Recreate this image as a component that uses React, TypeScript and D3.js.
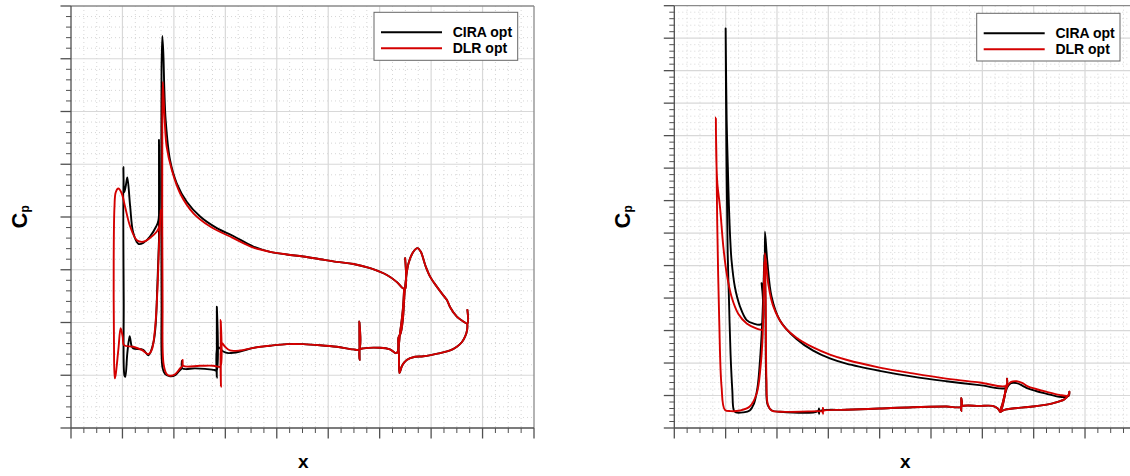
import React from "react";
import * as d3 from "d3";

type P = [number, number];

// ---------------- Left panel data (x/c, Cp) ----------------
const leftCiraSlat: P[] = [
  [0.142, -1.56], [0.142, -3.46], [0.140, -1.94], [0.131, -1.82], [0.107, -1.63], [0.081, -1.51],
  [0.062, -1.49], [0.042, -1.70], [0.030, -2.20], [0.019, -2.75], [0.013, -2.59], [0.007, -2.47],
  [0.0035, -2.95], [0.005, -0.43], [0.008, 1.01], [0.011, 1.03], [0.019, 0.58], [0.028, 0.26],
  [0.036, 0.45], [0.042, 0.49], [0.081, 0.52], [0.101, 0.62], [0.120, 0.39], [0.129, 0.05],
  [0.136, -0.75], [0.142, -1.56],
];
const leftDlrSlat: P[] = [
  [0.149, -2.13], [0.143, -1.82], [0.133, -1.72], [0.107, -1.60], [0.081, -1.53], [0.056, -1.56],
  [0.030, -1.82], [0.010, -2.20], [-0.003, -2.45], [-0.016, -2.54], [-0.026, -2.47], [-0.031, -2.19],
  [-0.034, -1.18], [-0.033, 0.33], [-0.030, 1.06], [-0.027, 1.01], [-0.016, 0.52], [-0.007, 0.11],
  [0.001, 0.27], [0.006, 0.43], [0.042, 0.46], [0.075, 0.52], [0.101, 0.60], [0.114, 0.52],
  [0.127, 0.10], [0.136, -0.62], [0.143, -1.56], [0.149, -2.13],
];
const leftCiraMain: P[] = [
  [1.099, -1.22], [1.099, -0.64], [1.090, -0.65], [1.066, -0.77], [1.028, -0.90], [0.963, -1.03],
  [0.898, -1.11], [0.833, -1.15], [0.768, -1.20], [0.703, -1.25], [0.639, -1.29], [0.574, -1.34],
  [0.509, -1.44], [0.431, -1.64], [0.367, -1.79], [0.302, -2.01], [0.250, -2.29], [0.211, -2.64],
  [0.185, -3.08], [0.168, -3.84], [0.163, -4.40], [0.159, -5.10], [0.155, -5.43],
  [0.152, -4.79], [0.152, -0.43], [0.156, 0.86], [0.166, 0.98], [0.185, 1.02], [0.205, 1.00],
  [0.224, 0.90], [0.230, 0.87], [0.231, 0.73], [0.233, 0.87], [0.282, 0.87], [0.321, 0.88],
  [0.358, 0.90], [0.366, 0.92], [0.367, -0.30], [0.367, 1.05], [0.370, 0.46], [0.392, 0.55],
  [0.412, 0.58], [0.457, 0.55], [0.509, 0.48], [0.574, 0.44], [0.639, 0.41], [0.703, 0.41],
  [0.768, 0.43], [0.833, 0.46], [0.898, 0.51], [0.920, 0.51], [0.921, -0.02], [0.922, 0.71],
  [0.923, 0.51], [0.937, 0.49], [1.002, 0.48], [1.040, 0.51], [1.066, 0.58], [1.079, 0.20],
  [1.090, -0.24], [1.095, -0.64],
];
const leftDlrMain: P[] = [
  [1.099, -1.22], [1.099, -0.64], [1.090, -0.65], [1.066, -0.77], [1.028, -0.90], [0.963, -1.03],
  [0.898, -1.11], [0.833, -1.15], [0.768, -1.20], [0.703, -1.25], [0.639, -1.29], [0.574, -1.34],
  [0.509, -1.42], [0.431, -1.60], [0.341, -1.82], [0.276, -2.07], [0.224, -2.45], [0.192, -2.89],
  [0.172, -3.33], [0.164, -3.85], [0.157, -4.56], [0.155, -3.84],
  [0.156, -0.43], [0.160, 0.79], [0.172, 0.98], [0.185, 1.01], [0.205, 0.98], [0.224, 0.87],
  [0.233, 0.82], [0.234, 0.71], [0.236, 0.82], [0.302, 0.82], [0.353, 0.82], [0.373, 0.84],
  [0.381, 0.84], [0.382, -0.05], [0.383, 1.22], [0.386, 0.39], [0.399, 0.46], [0.418, 0.53],
  [0.457, 0.53], [0.509, 0.48], [0.574, 0.44], [0.639, 0.41], [0.703, 0.41], [0.768, 0.43],
  [0.833, 0.46], [0.898, 0.51], [0.920, 0.51], [0.921, -0.02], [0.922, 0.71], [0.923, 0.51],
  [0.937, 0.49], [1.002, 0.48], [1.040, 0.51], [1.066, 0.58], [1.079, 0.20], [1.090, -0.24],
  [1.095, -0.64],
];
const leftCiraFlap: P[] = [
  [1.341, -0.24], [1.341, 0.02], [1.325, -0.02], [1.300, -0.11], [1.274, -0.29], [1.261, -0.43],
  [1.250, -0.50], [1.222, -0.68], [1.196, -0.87], [1.177, -1.09], [1.160, -1.34], [1.147, -1.41],
  [1.131, -1.34], [1.112, -1.12], [1.099, -0.68], [1.090, -0.05], [1.082, 0.20], [1.073, 0.29],
  [1.075, 0.62], [1.077, 0.96], [1.087, 0.82], [1.105, 0.71], [1.138, 0.65], [1.170, 0.64],
  [1.235, 0.58], [1.274, 0.53], [1.300, 0.46], [1.320, 0.37], [1.332, 0.27], [1.340, 0.14],
  [1.341, 0.02],
];
const leftDlrFlap: P[] = [
  [1.341, -0.24], [1.341, 0.02], [1.325, -0.02], [1.300, -0.11], [1.274, -0.29], [1.261, -0.43],
  [1.250, -0.50], [1.222, -0.68], [1.196, -0.87], [1.177, -1.09], [1.160, -1.34], [1.147, -1.41],
  [1.131, -1.34], [1.112, -1.12], [1.099, -0.68], [1.090, -0.05], [1.082, 0.20], [1.073, 0.29],
  [1.075, 0.62], [1.077, 0.96], [1.087, 0.82], [1.105, 0.71], [1.138, 0.65], [1.170, 0.64],
  [1.235, 0.58], [1.274, 0.53], [1.300, 0.46], [1.320, 0.37], [1.332, 0.27], [1.340, 0.14],
  [1.341, 0.02],
];

// ---------------- Right panel data (x/c, Cp) ----------------
const rightCiraSlat: P[] = [
  [0.151, -1.16], [0.147, -0.62], [0.142, -0.08], [0.134, 0.45], [0.124, 0.88], [0.110, 1.13],
  [0.094, 1.23], [0.068, 1.26], [0.040, 1.26], [0.032, 1.23], [0.026, 0.92], [0.019, 0.35],
  [0.013, -0.47], [0.008, -1.19], [0.003, -2.78], [0.000, -4.65], [0.004, -3.24], [0.011, -2.16],
  [0.014, -1.78], [0.019, -1.32], [0.023, -1.08], [0.036, -0.67], [0.056, -0.37], [0.082, -0.16],
  [0.107, -0.11], [0.140, -0.10], [0.140, -0.73],
];
const rightDlrSlat: P[] = [
  [0.151, -1.05], [0.149, -0.73], [0.144, 0.10], [0.136, 0.56], [0.121, 0.97], [0.094, 1.17],
  [0.056, 1.23], [0.020, 1.24], [-0.003, 1.22], [-0.016, 0.86], [-0.025, -0.16], [-0.033, -1.70],
  [-0.035, -2.42], [-0.038, -3.28], [-0.036, -2.60], [-0.032, -2.25], [-0.022, -1.90], [-0.009, -1.29],
  [0.004, -0.88], [0.023, -0.52], [0.049, -0.26], [0.082, -0.11], [0.121, -0.03], [0.140, -0.01],
];
const rightCiraMain: P[] = [
  [1.096, 0.74], [1.092, 0.88], [0.989, 0.84], [0.859, 0.78], [0.729, 0.71], [0.600, 0.62],
  [0.470, 0.51], [0.406, 0.43], [0.341, 0.31], [0.276, 0.13], [0.211, -0.16], [0.179, -0.52],
  [0.162, -1.08], [0.153, -1.52], [0.155, -0.47], [0.158, 0.76], [0.164, 1.15], [0.180, 1.23],
  [0.211, 1.25], [0.360, 1.24], [0.364, 1.20], [0.364, 1.28], [0.365, 1.24], [0.470, 1.22],
  [0.600, 1.20], [0.729, 1.18], [0.859, 1.17], [0.918, 1.17], [0.918, 1.04], [0.918, 1.24],
  [0.919, 1.17], [0.989, 1.16], [1.040, 1.16], [1.060, 1.20], [1.070, 1.25], [1.084, 1.07],
  [1.092, 0.88],
];
const rightDlrMain: P[] = [
  [1.096, 0.74], [1.092, 0.85], [0.989, 0.80], [0.859, 0.74], [0.729, 0.66], [0.600, 0.57],
  [0.470, 0.45], [0.406, 0.37], [0.341, 0.26], [0.276, 0.11], [0.224, -0.08], [0.185, -0.38],
  [0.166, -0.72], [0.153, -1.19], [0.156, -0.47], [0.159, 0.76], [0.164, 1.13], [0.179, 1.23],
  [0.211, 1.25], [0.360, 1.24], [0.379, 1.24], [0.379, 1.19], [0.379, 1.28], [0.380, 1.24],
  [0.470, 1.22], [0.600, 1.20], [0.729, 1.18], [0.859, 1.17], [0.918, 1.17], [0.918, 1.04],
  [0.918, 1.24], [0.919, 1.17], [0.989, 1.16], [1.040, 1.16], [1.060, 1.20], [1.070, 1.25],
  [1.084, 1.07], [1.092, 0.85],
];
const rightCiraFlap: P[] = [
  [1.339, 0.94], [1.336, 1.01], [1.300, 1.02], [1.248, 0.97], [1.209, 0.93], [1.177, 0.89],
  [1.157, 0.85], [1.134, 0.81], [1.112, 0.81], [1.099, 0.86], [1.090, 0.95], [1.079, 1.12],
  [1.070, 1.25], [1.086, 1.22], [1.118, 1.20], [1.196, 1.17], [1.274, 1.12], [1.319, 1.06],
  [1.336, 0.99], [1.339, 0.94],
];
const rightDlrFlap: P[] = [
  [1.339, 0.94], [1.336, 1.00], [1.300, 0.99], [1.248, 0.94], [1.209, 0.90], [1.177, 0.86],
  [1.157, 0.81], [1.134, 0.78], [1.112, 0.79], [1.099, 0.84], [1.090, 0.94], [1.079, 1.12],
  [1.070, 1.25], [1.086, 1.22], [1.118, 1.20], [1.196, 1.17], [1.274, 1.12], [1.319, 1.06],
  [1.336, 0.99], [1.339, 0.94],
];

const seriesNames = ["CIRA opt", "DLR opt"];
const seriesColors = ["#000000", "#d40000"];

type PanelCfg = {
  x0: number; x1: number; y0: number; y1: number;
  xMin: number; xStep: number; xN: number;
  yMin: number; yStep: number; yN: number;
  legend: { x: number; y: number; w: number; h: number };
  xLabel: { x: number; y: number };
  cpLabel: { x: number; y: number };
  cira: P[][];
  dlr: P[][];
};

const panels: PanelCfg[] = [
  {
    x0: 71, x1: 534, y0: 6, y1: 428,
    xMin: -0.2, xStep: 0.2, xN: 9,
    yMin: -6, yStep: 1, yN: 8,
    legend: { x: 374, y: 12.3, w: 143.7, h: 48 },
    xLabel: { x: 303.3, y: 468.3 },
    cpLabel: { x: 26.5, y: 228.5 },
    cira: [leftCiraSlat, leftCiraMain, leftCiraFlap],
    dlr: [leftDlrSlat, leftDlrMain, leftDlrFlap],
  },
  {
    x0: 674.3, x1: 1187.7, y0: 5.7, y1: 428,
    xMin: -0.2, xStep: 0.2, xN: 10,
    yMin: -5, yStep: 0.5, yN: 13,
    legend: { x: 976.7, y: 13.3, w: 143.3, h: 47.7 },
    xLabel: { x: 905.3, y: 468.3 },
    cpLabel: { x: 629.5, y: 228.5 },
    cira: [rightCiraSlat, rightCiraMain, rightCiraFlap],
    dlr: [rightDlrSlat, rightDlrMain, rightDlrFlap],
  },
];

function makeTicks(min: number, step: number, n: number, div: number) {
  const majors = d3.range(n + 1).map((i) => min + i * step);
  const minors: number[] = [];
  for (let i = 0; i < n; i++) {
    for (let k = 1; k < div; k++) minors.push(min + i * step + (k * step) / div);
  }
  return { majors, minors };
}

function Panel({ p }: { p: PanelCfg }) {
  const x = d3.scaleLinear().domain([p.xMin, p.xMin + p.xN * p.xStep]).range([p.x0, p.x1]);
  const y = d3.scaleLinear().domain([p.yMin + p.yN * p.yStep, p.yMin]).range([p.y1, p.y0]);
  const xt = makeTicks(p.xMin, p.xStep, p.xN, 4);
  const yt = makeTicks(p.yMin, p.yStep, p.yN, 5);
  const line = d3
    .line<P>()
    .x((d) => x(d[0]))
    .y((d) => y(d[1]))
    .curve(d3.curveCatmullRom.alpha(0.5));

  const gridMajor = "#d8d8d8";
  const gridMinor = "#d6d6d6";
  const tickCol = "#505050";

  return (
    <g>
      {/* minor grid (dotted) */}
      {xt.minors.map((v, i) => (
        <line key={"xmg" + i} x1={x(v)} x2={x(v)} y1={p.y0} y2={p.y1} stroke={gridMinor} strokeWidth={1} strokeDasharray="1,3" />
      ))}
      {yt.minors.map((v, i) => (
        <line key={"ymg" + i} x1={p.x0} x2={p.x1} y1={y(v)} y2={y(v)} stroke={gridMinor} strokeWidth={1} strokeDasharray="1,3" />
      ))}
      {/* major grid */}
      {xt.majors.slice(1, -1).map((v, i) => (
        <line key={"xg" + i} x1={x(v)} x2={x(v)} y1={p.y0} y2={p.y1} stroke={gridMajor} strokeWidth={1.2} />
      ))}
      {yt.majors.slice(1, -1).map((v, i) => (
        <line key={"yg" + i} x1={p.x0} x2={p.x1} y1={y(v)} y2={y(v)} stroke={gridMajor} strokeWidth={1.2} />
      ))}
      {/* frame */}
      <line x1={p.x0} x2={p.x1} y1={p.y0} y2={p.y0} stroke="#8a8a8a" strokeWidth={1.3} />
      <line x1={p.x1} x2={p.x1} y1={p.y0} y2={p.y1} stroke="#8a8a8a" strokeWidth={1.3} />
      <line x1={p.x0} x2={p.x0} y1={p.y0} y2={p.y1} stroke={tickCol} strokeWidth={1.3} />
      <line x1={p.x0} x2={p.x1} y1={p.y1} y2={p.y1} stroke={tickCol} strokeWidth={1.3} />
      {/* ticks */}
      {xt.majors.map((v, i) => (
        <line key={"xt" + i} x1={x(v)} x2={x(v)} y1={p.y1} y2={p.y1 + 10.5} stroke={tickCol} strokeWidth={1.3} />
      ))}
      {xt.minors.map((v, i) => (
        <line key={"xmt" + i} x1={x(v)} x2={x(v)} y1={p.y1} y2={p.y1 + 5} stroke={tickCol} strokeWidth={1} />
      ))}
      {yt.majors.map((v, i) => (
        <line key={"yt" + i} x1={p.x0 - 10.5} x2={p.x0} y1={y(v)} y2={y(v)} stroke={tickCol} strokeWidth={1.3} />
      ))}
      {yt.minors.map((v, i) => (
        <line key={"ymt" + i} x1={p.x0 - 5} x2={p.x0} y1={y(v)} y2={y(v)} stroke={tickCol} strokeWidth={1} />
      ))}
      {/* curves */}
      {p.cira.map((d, i) => (
        <path key={"c" + i} d={line(d) || ""} fill="none" stroke={seriesColors[0]} strokeWidth={1.9} strokeLinejoin="round" strokeLinecap="round" />
      ))}
      {p.dlr.map((d, i) => (
        <path key={"d" + i} d={line(d) || ""} fill="none" stroke={seriesColors[1]} strokeWidth={1.9} strokeLinejoin="round" strokeLinecap="round" />
      ))}
      {/* legend */}
      <rect x={p.legend.x} y={p.legend.y} width={p.legend.w} height={p.legend.h} fill="#fff" stroke="#666" strokeWidth={1} />
      {seriesNames.map((name, i) => {
        const ly = p.legend.y + 20 + i * 16;
        return (
          <g key={name}>
            <line x1={p.legend.x + 7} x2={p.legend.x + 68} y1={ly} y2={ly} stroke={seriesColors[i]} strokeWidth={2} />
            <text x={p.legend.x + 78.7} y={ly + 5} fontSize={14} fontWeight="bold" fill="#000">
              {name}
            </text>
          </g>
        );
      })}
      {/* axis labels */}
      <text x={p.xLabel.x} y={p.xLabel.y} fontSize={19} fontWeight="bold" textAnchor="middle" fill="#000">
        x
      </text>
      <text transform={`translate(${p.cpLabel.x},${p.cpLabel.y}) rotate(-90)`} fontSize={22} fontWeight="bold" fill="#000">
        C
        <tspan fontSize={12} dy={2}>
          p
        </tspan>
      </text>
    </g>
  );
}

export default function App() {
  return (
    <svg
      width={1130}
      height={476}
      style={{ position: "fixed", left: 0, top: 0, background: "#fff" }}
      fontFamily="'Liberation Sans', Arial, Helvetica, sans-serif"
    >
      <rect x={0} y={0} width={1130} height={476} fill="#fff" />
      {panels.map((p, i) => (
        <Panel key={i} p={p} />
      ))}
    </svg>
  );
}
